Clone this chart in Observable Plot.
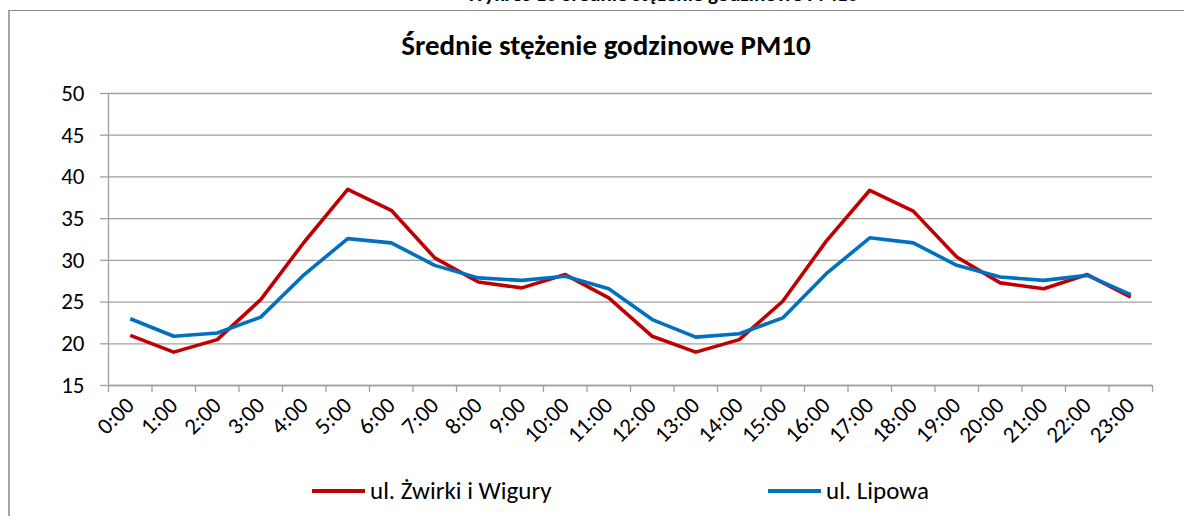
<!DOCTYPE html>
<html>
<head>
<meta charset="utf-8">
<script src="https://cdn.jsdelivr.net/npm/d3@7"></script>
<script src="https://cdn.jsdelivr.net/npm/@observablehq/plot@0.6"></script>
<style>
  html, body { margin: 0; padding: 0; background: #fff; }
  body { width: 1184px; height: 516px; position: relative; overflow: hidden; font-family: Carlito, Calibri, Lato, "Open Sans", sans-serif; }
  #frame { position: absolute; left: 8px; top: 10px; width: 1300px; height: 600px; border-left: 2px solid #a6a6a6; border-top: 1px solid #8c8c8c; }
  #toptitle { position: absolute; top: -18px; left: 0; width: 1324px; text-align: center; font-weight: bold; font-size: 21px; line-height: 25px; color: #000; }
  #title { position: absolute; top: 28px; left: 0; width: 1212px; text-align: center; font-weight: bold; font-size: 29px; line-height: 35px; color: #000; }
  #chart { position: absolute; left: 0; top: 0; }
  .leg { position: absolute; top: 476px; height: 30px; display: flex; align-items: center; font-size: 25px; line-height: 30px; color: #000; }
  .leg .sw { width: 53px; height: 4px; margin-right: 5px; }
</style>
</head>
<body>
<div id="frame"></div>
<div id="toptitle">Wykres 10 Średnie stężenie godzinowe PM10</div>
<div id="chart"></div>
<div id="title">Średnie stężenie godzinowe PM10</div>
<div id="legend"></div>
<script>
const hours = ["0:00","1:00","2:00","3:00","4:00","5:00","6:00","7:00","8:00","9:00","10:00","11:00",
               "12:00","13:00","14:00","15:00","16:00","17:00","18:00","19:00","20:00","21:00","22:00","23:00"];
const seriesNames = ["ul. Żwirki i Wigury", "ul. Lipowa"];
const seriesColors = ["#C00000", "#0070C0"];
const zwirki = [21.0, 19.0, 20.5, 25.3, 32.2, 38.5, 36.0, 30.3, 27.4, 26.7, 28.3, 25.5,
                20.9, 19.0, 20.5, 25.1, 32.3, 38.4, 35.9, 30.4, 27.3, 26.6, 28.3, 25.6];
const lipowa = [23.0, 20.9, 21.3, 23.2, 28.3, 32.6, 32.1, 29.4, 27.9, 27.6, 28.1, 26.6,
                22.9, 20.8, 21.2, 23.1, 28.4, 32.7, 32.1, 29.4, 28.0, 27.6, 28.2, 25.9];
const yTicks = [15, 20, 25, 30, 35, 40, 45, 50];

const rows = [];
[zwirki, lipowa].forEach((vals, s) => vals.forEach((v, i) => rows.push({i, v, s: seriesNames[s]})));
const idx = hours.map((h, i) => i);
const bounds = hours.map((h, i) => i - 0.5).concat([hours.length - 0.5]);

const plot = Plot.plot({
  width: 1184,
  height: 516,
  marginLeft: 108,
  marginRight: 32,
  marginTop: 93,
  marginBottom: 131,
  style: { fontFamily: "Carlito, Calibri, Lato, 'Open Sans', sans-serif", fontSize: "23px", color: "#000", background: "transparent", overflow: "visible" },
  x: { type: "linear", domain: [-0.5, hours.length - 0.5] },
  y: { domain: [15, 50] },
  color: { domain: seriesNames, range: seriesColors },
  marks: [
    Plot.gridY(yTicks, { stroke: "#a0a0a0", strokeOpacity: 1, strokeWidth: 1.3 }),
    Plot.axisY({ ticks: yTicks, tickSize: 8, tickPadding: 16, stroke: "#a0a0a0", strokeWidth: 1.3, fontSize: 23, label: null, tickFormat: d => String(d) }),
    Plot.ruleX([-0.5], { stroke: "#a0a0a0", strokeWidth: 1.3 }),
    Plot.ruleY([15], { stroke: "#a0a0a0", strokeWidth: 1.3 }),
    Plot.axisX({ ticks: bounds, tickSize: 7, tickFormat: () => "", stroke: "#a0a0a0", strokeWidth: 1.3, label: null }),
    Plot.axisX({ ticks: idx, tickSize: 0, tickPadding: 16, tickRotate: -45, tickFormat: i => hours[i], fontSize: 23, label: null }),
    Plot.line(rows, { x: "i", y: "v", z: "s", stroke: "s", strokeWidth: 3.6, strokeLinejoin: "round", strokeLinecap: "butt" })
  ]
});
document.getElementById("chart").appendChild(plot);

const legend = document.getElementById("legend");
const legX = [312, 768];
seriesNames.forEach((n, k) => {
  const d = document.createElement("div");
  d.className = "leg";
  d.style.left = legX[k] + "px";
  const sw = document.createElement("span");
  sw.className = "sw";
  sw.style.background = seriesColors[k];
  const t = document.createElement("span");
  t.textContent = n;
  d.appendChild(sw); d.appendChild(t);
  legend.appendChild(d);
});
</script>
</body>
</html>
